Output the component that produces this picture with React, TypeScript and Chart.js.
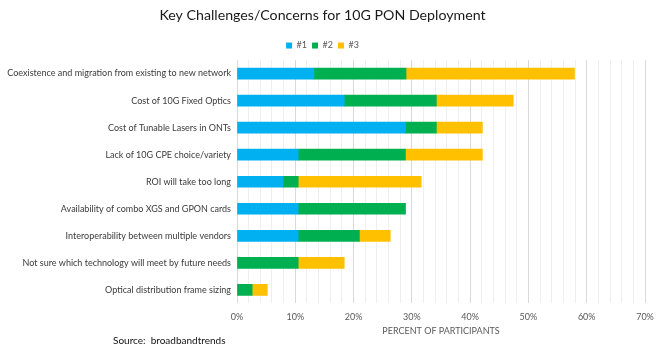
import React, { useEffect, useRef } from "react";
import { Chart, registerables } from "chart.js";

Chart.register(...registerables);

const categories = [
  "Coexistence and migration from existing to new network",
  "Cost of 10G Fixed Optics",
  "Cost of Tunable Lasers in ONTs",
  "Lack of 10G CPE choice/variety",
  "ROI will take too long",
  "Availability of combo XGS and GPON cards",
  "Interoperability between multiple vendors",
  "Not sure which technology will meet by future needs",
  "Optical distribution frame sizing",
];

const rank1 = [13.2, 18.4, 28.9, 10.5, 7.9, 10.5, 10.5, 0, 0];
const rank2 = [15.8, 15.8, 5.3, 18.4, 2.6, 18.4, 10.5, 10.5, 2.6];
const rank3 = [28.9, 13.2, 7.9, 13.2, 21.1, 0, 5.3, 7.9, 2.6];

const seriesNames = ["#1", "#2", "#3"];
const seriesColors = ["#00B0F0", "#00B050", "#FFC000"];

const xMax = 70;
const sourceText = "Source:  broadbandtrends";
const chartTitle = "Key Challenges/Concerns for 10G PON Deployment";
const xTitle = "PERCENT OF PARTICIPANTS";

const FONT = "Lato, 'Open Sans', sans-serif";

export default function App() {
  const ref = useRef<HTMLCanvasElement | null>(null);

  useEffect(() => {
    if (!ref.current) return;
    const sourcePlugin = {
      id: "sourceText",
      afterDraw(chart: any) {
        const c = chart.ctx;
        c.save();
        c.font = `10px ${FONT}`;
        c.fillStyle = "#111";
        c.textBaseline = "middle";
        c.textAlign = "left";
        c.fillText(sourceText, 113, 341);
        c.restore();
      },
    };
    const chart = new Chart(ref.current, {
      type: "bar",
      data: {
        labels: categories,
        datasets: [rank1, rank2, rank3].map((d, i) => ({
          label: seriesNames[i],
          data: d,
          backgroundColor: seriesColors[i],
          borderWidth: 0,
          barThickness: 11,
        })),
      },
      options: {
        indexAxis: "y",
        animation: false,
        responsive: false,
        maintainAspectRatio: false,
        layout: { padding: { left: 0, right: 20, top: 7, bottom: 19 } },
        plugins: {
          title: {
            display: true,
            text: chartTitle,
            color: "#1a1a1a",
            font: { family: FONT, size: 14.2, weight: "normal" },
            padding: { top: 0, bottom: 12 },
          },
          legend: {
            position: "top",
            labels: {
              boxWidth: 6,
              boxHeight: 6,
              padding: 5,
              color: "#595959",
              font: { family: FONT, size: 9 },
            },
          },
          tooltip: { enabled: false },
        },
        scales: {
          x: {
            stacked: true,
            min: 0,
            max: xMax,
            border: { display: false },
            grid: {
              drawTicks: false,
              color: (ctx: any) =>
                ctx.tick && ctx.tick.value % 10 === 0 ? "#d9d9d9" : "#efefef",
            },
            ticks: {
              stepSize: 2,
              autoSkip: false,
              maxRotation: 0,
              padding: 8,
              color: "#595959",
              font: { family: FONT, size: 9 },
              callback: (v: any) => (Number(v) % 10 === 0 ? `${v}%` : ""),
            },
            title: {
              display: true,
              text: xTitle,
              color: "#595959",
              font: { family: FONT, size: 9 },
              padding: { top: -5, bottom: 0 },
            },
          },
          y: {
            stacked: true,
            border: { display: false },
            grid: { display: false, drawTicks: false },
            afterFit: (scale: any) => {
              scale.width = 237;
            },
            ticks: {
              padding: 6,
              color: "#3a3a3a",
              font: { family: FONT, size: 9 },
            },
          },
        },
      },
      plugins: [sourcePlugin],
    });
    return () => chart.destroy();
  }, []);

  return (
    <div style={{ position: "fixed", left: 0, top: 0, width: 665, height: 355, background: "#fff" }}>
      <canvas ref={ref} width={665} height={355} style={{ width: 665, height: 355 }} />
    </div>
  );
}
